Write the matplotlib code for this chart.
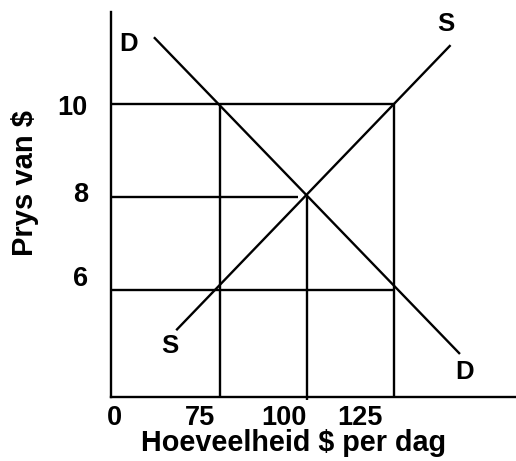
import matplotlib
matplotlib.use("Agg")
import matplotlib.pyplot as plt

# --- data ---
prices = [10, 8, 6]                 # price levels marked on the chart
quantities = [75, 100, 125]         # quantity levels marked on the chart
demand_q = [56.1, 144.0]            # demand line endpoints (quantity)
demand_p = [11.43, 4.63]            # demand line endpoints (price)
supply_q = [62.5, 141.3]            # supply line endpoints (quantity)
supply_p = [5.14, 11.26]            # supply line endpoints (price)
x_tick_labels = ["0", "75", "100", "125"]
y_tick_labels = ["10", "8", "6"]

# --- layout (label placement in the schematic) ---
x_label_pos = [44.8, 69.3, 93.3, 115.4]
y_label_pos = [9.97, 8.10, 6.31]
XMIN, XMAX = 43.9, 160.1
YMIN, YMAX = 3.706, 11.97

plt.rcParams['font.family'] = ['Liberation Sans', 'DejaVu Sans']
plt.rcParams['font.weight'] = 'bold'

fig = plt.figure(figsize=(5.16, 4.61), dpi=100)
ax = fig.add_axes([0.216, 0.1388, 0.784, 0.835])
ax.set_xlim(XMIN, XMAX)
ax.set_ylim(YMIN, YMAX)

for s in ["top", "right"]:
    ax.spines[s].set_visible(False)
for s in ["left", "bottom"]:
    ax.spines[s].set_linewidth(1.7)
    ax.spines[s].set_color("black")

lw = 1.7
# horizontal guide lines
ax.hlines(prices[0], XMIN, quantities[2], color="black", lw=lw)
ax.hlines(prices[1], XMIN, quantities[1] - 2.5, color="black", lw=lw)
ax.hlines(prices[2], XMIN, quantities[2], color="black", lw=lw)
# vertical guide lines
ax.vlines(quantities[0], YMIN, prices[0], color="black", lw=lw)
ax.vlines(quantities[1], YMIN - 0.07, prices[1], color="black", lw=lw, clip_on=False)
ax.vlines(quantities[2], YMIN, prices[0], color="black", lw=lw)

# demand and supply
ax.plot(demand_q, demand_p, color="black", lw=lw, solid_capstyle="butt")
ax.plot(supply_q, supply_p, color="black", lw=lw, solid_capstyle="butt")

# curve labels
fs = 18.5
ax.text(48.8, 11.28, "D", ha="center", va="center", fontsize=fs, fontweight="bold")
ax.text(139.85, 11.71, "S", ha="center", va="center", fontsize=fs, fontweight="bold")
ax.text(60.7, 4.80, "S", ha="center", va="center", fontsize=fs, fontweight="bold")
ax.text(145.45, 4.24, "D", ha="center", va="center", fontsize=fs, fontweight="bold")

ax.set_xticks(x_label_pos)
ax.set_xticklabels(x_tick_labels, fontsize=19.5, fontweight="bold")
ax.set_yticks(y_label_pos)
ax.set_yticklabels(y_tick_labels, fontsize=19.5, fontweight="bold")
ax.tick_params(axis="both", length=0)
ax.tick_params(axis="x", pad=6)
ax.tick_params(axis="y", pad=17)

fig.text(294 / 516, 1 - 443 / 461, "Hoeveelheid $ per dag", ha="center", va="center",
         fontsize=20.7, fontweight="bold")
fig.text(25 / 516, 1 - 183 / 461, "Prys van $", ha="center", va="center",
         rotation=90, fontsize=21, fontweight="bold")

fig.savefig("out.png", dpi=100)
